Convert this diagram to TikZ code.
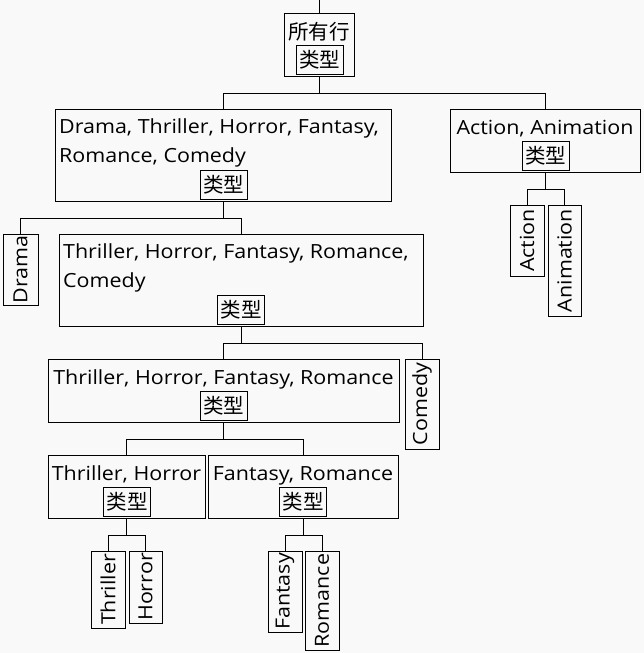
\documentclass[tikz,border=0pt]{standalone}
\usepackage{fontspec}
\setmainfont{Open Sans}[FakeStretch=1.1]
\newfontfamily\cjk{Noto Sans CJK SC}
\usetikzlibrary{calc}
\definecolor{bgc}{HTML}{F9F9F9}
\tikzset{
  box/.style={draw=black, line width=1pt, inner sep=0pt, rectangle},
  leaf/.style={draw=black, line width=1pt, inner sep=0pt, rectangle, rotate=90, font=\fontsize{19.5}{22}\selectfont},
  tag/.style={draw=black, line width=1pt, inner sep=0pt, minimum width=47pt, minimum height=29pt, font=\cjk\fontsize{20.5}{22}\selectfont},
  lbl/.style={inner sep=0pt, font=\fontsize{19.5}{22}\selectfont},
  cjklbl/.style={inner sep=0pt, font=\cjk\fontsize{20.5}{22}\selectfont},
  conn/.style={draw=black, line width=1pt},
}
\newcommand\mkbox[5]{\node[box, minimum width={(#4-#2)*1pt}, minimum height={(#5-#3)*1pt}] (#1) at ({(#2+#4)/2},{(#3+#5)/2}) {};}
\newcommand\mkleaf[6]{\node[leaf, minimum width={(#5-#3)*1pt}, minimum height={(#4-#2)*1pt}] (#1) at ({(#2+#4)/2},{(#3+#5)/2}) {#6};}
\begin{document}
\begin{tikzpicture}[x=1pt,y=-1pt]
\fill[bgc] (0,0) rectangle (644,653);
\useasboundingbox (0,0) rectangle (644,653);
% root
\mkbox{root}{284}{13}{354}{76}
\node[cjklbl] (rootlbl) at (319,31.5) {所有行};
\node[tag] (roottag) at (319.5,59.5) {类型};
% A
\mkbox{A}{55}{109}{391}{201}
\node[lbl, anchor=base west] (Al1) at (59,133) {Drama, Thriller, Horror, Fantasy,};
\node[lbl, anchor=base west] (Al2) at (59,162) {Romance, Comedy};
\node[tag] (Atag) at (223.5,184.5) {类型};
% B
\mkbox{B}{450}{109}{640}{172}
\node[lbl, anchor=base] (Bl1) at (545,134) {Action, Animation};
\node[tag] (Btag) at (545.5,155.5) {类型};
% C
\mkbox{C}{59}{234}{423}{326}
\node[lbl, anchor=base west] (Cl1) at (63,258) {Thriller, Horror, Fantasy, Romance,};
\node[lbl, anchor=base west] (Cl2) at (63,287) {Comedy};
\node[tag] (Ctag) at (241,309.5) {类型};
% D
\mkbox{D}{48}{359}{399}{422}
\node[lbl, anchor=base] (Dl1) at (223.5,384) {Thriller, Horror, Fantasy, Romance};
\node[tag] (Dtag) at (223.5,405.5) {类型};
% E
\mkbox{E}{48}{455}{205}{518}
\node[lbl, anchor=base] (El1) at (126.5,480) {Thriller, Horror};
\node[tag] (Etag) at (127,501.5) {类型};
% F
\mkbox{F}{208}{455}{398}{518}
\node[lbl, anchor=base] (Fl1) at (303,480) {Fantasy, Romance};
\node[tag] (Ftag) at (303,501.5) {类型};
% leaves
\mkleaf{drama}{3}{234}{38}{305}{Drama}
\mkleaf{comedy}{405}{359}{439}{449}{Comedy}
\mkleaf{action}{510}{205}{544}{276}{Action}
\mkleaf{animation}{548}{205}{581}{316}{Animation}
\mkleaf{thriller}{91}{551}{125}{628}{Thriller}
\mkleaf{horror}{129}{551}{162}{623}{Horror}
\mkleaf{fantasy}{268}{551}{302}{632}{Fantasy}
\mkleaf{romance}{305}{551}{339}{650}{Romance}
% connectors
\coordinate (topend) at (319,0);
\draw[conn] (topend) -- (root.north);
\foreach \p in {root,A,B,C,D,E,F}{\coordinate (\p bar) at ([yshift=-17pt]\p.south);}
\draw[conn] (root.south) -- (rootbar);
\draw[conn] (rootbar) -| (A.north);
\draw[conn] (rootbar) -| (B.north);
\draw[conn] (A.south) -- (Abar);
\draw[conn] (Abar) -| (drama.east);
\draw[conn] (Abar) -| (C.north);
\draw[conn] (B.south) -- (Bbar);
\draw[conn] (Bbar) -| (action.east);
\draw[conn] (Bbar) -| (animation.east);
\draw[conn] (C.south) -- (Cbar);
\draw[conn] (Cbar) -| (D.north);
\draw[conn] (Cbar) -| (comedy.east);
\draw[conn] (D.south) -- (Dbar);
\draw[conn] (Dbar) -| (E.north);
\draw[conn] (Dbar) -| (F.north);
\draw[conn] (E.south) -- (Ebar);
\draw[conn] (Ebar) -| (thriller.east);
\draw[conn] (Ebar) -| (horror.east);
\draw[conn] (F.south) -- (Fbar);
\draw[conn] (Fbar) -| (fantasy.east);
\draw[conn] (Fbar) -| (romance.east);
\end{tikzpicture}
\end{document}
